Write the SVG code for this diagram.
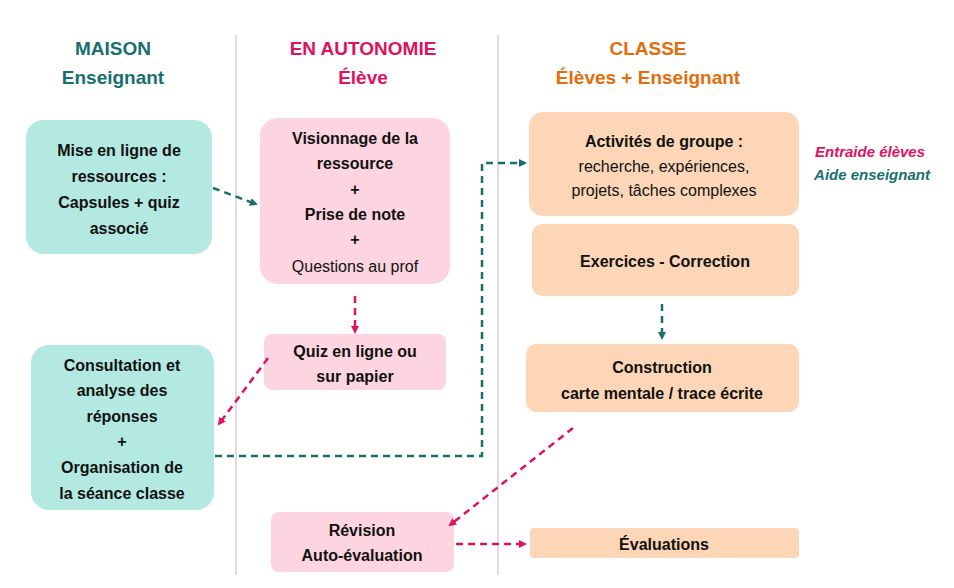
<svg xmlns="http://www.w3.org/2000/svg" width="954" height="588" viewBox="0 0 954 588">
<style>
text{font-family:"Liberation Sans",Arial,sans-serif;font-size:16px;text-anchor:middle;fill:#111}
.b{font-weight:bold}
.h{font-size:19px;font-weight:bold}
.t{fill:#17706e}.p{fill:#e0115f}.o{fill:#e46c0a}
.m{fill:#b4e9e1}.a{fill:#fdd5e0}.c{fill:#fcd6b6}
.dt{stroke:#17706e;stroke-width:2.5;stroke-dasharray:7,5;fill:none}
.dp{stroke:#e0115f;stroke-width:2.5;stroke-dasharray:7,5;fill:none}
</style>
<defs>
<marker id="at" markerWidth="8" markerHeight="8" refX="6" refY="4" orient="auto" markerUnits="userSpaceOnUse" viewBox="0 0 8 8"><path d="M0,0L8,4L0,8z" fill="#17706e"/></marker>
<marker id="ap" markerWidth="8" markerHeight="8" refX="6" refY="4" orient="auto" markerUnits="userSpaceOnUse" viewBox="0 0 8 8"><path d="M0,0L8,4L0,8z" fill="#e0115f"/></marker>
</defs>
<rect width="954" height="588" fill="#fff"/>
<g stroke="#bbb" stroke-width="1"><line x1="236" y1="35" x2="236" y2="575"/><line x1="498" y1="35" x2="498" y2="575"/></g>
<g id="headers">
<text x="113" y="55" class="h t">MAISON</text><text x="113" y="84" class="h t">Enseignant</text>
<text x="363" y="55" class="h p">EN AUTONOMIE</text><text x="363" y="84" class="h p">Élève</text>
<text x="648" y="55" class="h o">CLASSE</text><text x="648" y="84" class="h o">Élèves + Enseignant</text>
</g>
<g id="mise"><rect x="26" y="120" width="186" height="134" rx="18" class="m"/>
<text class="b" x="119" y="156">Mise en ligne de</text><text class="b" x="119" y="182">ressources :</text><text class="b" x="119" y="208">Capsules + quiz</text><text class="b" x="119" y="234">associé</text></g>
<g id="vision"><rect x="260" y="118" width="190" height="166" rx="18" class="a"/>
<text class="b" x="355" y="144">Visionnage  de la</text><text class="b" x="355" y="169">ressource</text><text class="b" x="355" y="195">+</text><text class="b" x="355" y="220">Prise de note</text><text class="b" x="355" y="245">+</text><text x="355" y="272">Questions au prof</text></g>
<g id="quiz"><rect x="264" y="334" width="182" height="56" rx="8" class="a"/>
<text class="b" x="355" y="357">Quiz en ligne ou</text><text class="b" x="355" y="382">sur papier</text></g>
<g id="consult"><rect x="31" y="345" width="183" height="165" rx="18" class="m"/>
<text class="b" x="122" y="371">Consultation  et</text><text class="b" x="122" y="396">analyse des</text><text class="b" x="122" y="422">réponses</text><text class="b" x="122" y="447">+</text><text class="b" x="122" y="473">Organisation  de</text><text class="b" x="122" y="499">la séance classe</text></g>
<g id="revision"><rect x="271" y="512" width="183" height="60" rx="8" class="a"/>
<text class="b" x="362" y="536">Révision</text><text class="b" x="362" y="561">Auto-évaluation</text></g>
<g id="activites"><rect x="529" y="112" width="270" height="104" rx="14" class="c"/>
<text class="b" x="664" y="147">Activités de groupe :</text><text x="664" y="172">recherche, expériences,</text><text x="664" y="196">projets, tâches complexes</text></g>
<g id="exercices"><rect x="532" y="224" width="267" height="72" rx="10" class="c"/>
<text class="b" x="665" y="267">Exercices - Correction</text></g>
<g id="construction"><rect x="526" y="344" width="273" height="68" rx="10" class="c"/>
<text class="b" x="662" y="373">Construction</text><text class="b" x="662" y="399">carte mentale / trace écrite</text></g>
<g id="evaluations"><rect x="530" y="528" width="269" height="30" rx="4" class="c"/>
<text class="b" x="664" y="550">Évaluations</text></g>
<g id="notes" style="font-style:italic;font-weight:bold;font-size:15px">
<text x="870" y="157" class="p" style="font-style:italic;font-weight:bold;font-size:15px">Entraide élèves</text>
<text x="872" y="180" class="t" style="font-style:italic;font-weight:bold;font-size:15px">Aide enseignant</text></g>
<g id="connectors">
<path class="dt" d="M213,188L256,204" marker-end="url(#at)"/>
<path class="dp" d="M355,296L355,332" marker-end="url(#ap)"/>
<path class="dp" d="M268,358L219,424" marker-end="url(#ap)"/>
<path class="dt" d="M215,456H482V163H525" marker-end="url(#at)"/>
<path class="dt" d="M662,304V338" marker-end="url(#at)"/>
<path class="dp" d="M573,428L450,525" marker-end="url(#ap)"/>
<path class="dp" d="M456,544H525" marker-end="url(#ap)"/>
</g>
</svg>
